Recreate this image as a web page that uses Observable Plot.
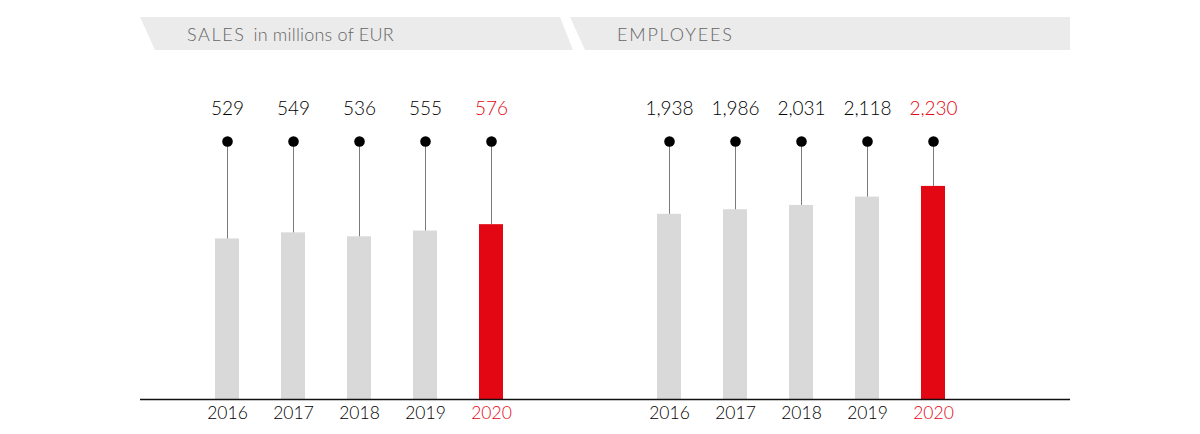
<!DOCTYPE html>
<html><head><meta charset="utf-8">
<script src="https://cdn.jsdelivr.net/npm/d3@7"></script>
<script src="https://cdn.jsdelivr.net/npm/@observablehq/plot@0.6"></script>
<style>
html,body{margin:0;padding:0;background:#fff;}
#root{position:relative;width:1200px;height:434px;overflow:hidden;font-family:Lato,"Open Sans",sans-serif;}
#head{position:absolute;left:0;top:0;}
#left{position:absolute;left:140px;top:60px;}
#right{position:absolute;left:570px;top:60px;}
</style></head><body>
<div id="root"><svg id="head" width="1200" height="60"></svg><div id="left"></div><div id="right"></div></div>
<script>
const years = ["2016", "2017", "2018", "2019", "2020"];
const sales = [529, 549, 536, 555, 576];
const employees = [1938, 1986, 2031, 2118, 2230];
const highlightYear = "2020";
const salesTitle = "SALES";
const salesUnit = "in millions of EUR";
const employeesTitle = "EMPLOYEES";

const RED = "#e30613", GRAY = "#d9d9d9", INK = "#000";
const FONT = "Lato, 'Open Sans', sans-serif";

// header banners
const head = d3.select("#head");
head.append("polygon").attr("points", "140,17 560,17 573,50 155,50").attr("fill", "#ebebeb");
head.append("polygon").attr("points", "570,17 1070,17 1070,50 585,50").attr("fill", "#ebebeb");
const t1 = head.append("text").attr("x", 187).attr("y", 41).attr("fill", "#666")
  .style("font-family", FONT).style("font-weight", 300);
t1.append("tspan").text(salesTitle).style("font-size", "18px").style("letter-spacing", "1.6px");
t1.append("tspan").attr("dx", 8).text(salesUnit).style("font-size", "18px").style("letter-spacing", "0.2px");
head.append("text").attr("x", 617).attr("y", 41).attr("fill", "#666")
  .style("font-family", FONT).style("font-weight", 300).style("font-size", "18px").style("letter-spacing", "1.8px")
  .text(employeesTitle);

function panel(values, width, yMax, xRange, fmt) {
  const data = years.map((year, i) => ({year, value: values[i], hi: year === highlightYear}));
  return Plot.plot({
    width, height: 374,
    marginTop: 81, marginBottom: 35, marginLeft: 0, marginRight: 0,
    style: {fontFamily: FONT, fontWeight: 300, background: "transparent", overflow: "visible"},
    x: {domain: years, range: xRange, paddingInner: 0.633, paddingOuter: 0.3165, axis: null},
    y: {domain: [0, yMax], axis: null},
    color: {type: "identity"},
    marks: [
      Plot.barY(data, {x: "year", y: "value", fill: d => d.hi ? RED : GRAY}),
      Plot.ruleX(data, {x: "year", y1: "value", y2: () => yMax, stroke: "#7a7a7a", strokeWidth: 1}),
      Plot.dot(data, {x: "year", y: () => yMax, r: 5.3, fill: "#000", stroke: null}),
      Plot.text(data, {x: "year", y: () => yMax, dy: -33, text: d => fmt(d.value),
        fill: d => d.hi ? RED : INK, fontSize: 19}),
      Plot.ruleY([0], {stroke: "#111", strokeWidth: 1.4}),
      Plot.text(data, {x: "year", frameAnchor: "bottom", dy: 19, text: "year",
        fill: d => d.hi ? RED : INK, fontSize: 17.5})
    ]
  });
}

const fmtInt = d3.format(",");
document.getElementById("left").appendChild(
  panel(sales, 430, 850, [52.6, 386.4], fmtInt));
document.getElementById("right").appendChild(
  panel(employees, 500, 2700, [64.6, 398.4], fmtInt));
</script>
</body></html>
